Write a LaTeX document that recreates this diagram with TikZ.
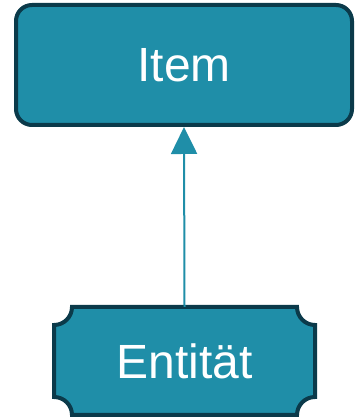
\documentclass[tikz,border=0pt]{standalone}
\usepackage{fontspec}
\setmainfont{Liberation Sans}
\usepackage{tikz}
\usetikzlibrary{arrows.meta, calc}
\definecolor{boxfill}{HTML}{1F8EA8}
\definecolor{boxline}{HTML}{0B3A4A}

\begin{document}
\begin{tikzpicture}[x=1pt, y=1pt,
    label text/.style={text=white, font=\fontsize{48}{58}\selectfont},
    item box/.style={label text, draw=boxline, fill=boxfill, line width=4pt,
      rounded corners=16pt, minimum width=336pt, minimum height=120pt},
    entity box/.style={label text, minimum width=261pt, minimum height=108pt},
    entity line/.style={draw=boxline, fill=boxfill, line width=4pt}
  ]
  \useasboundingbox (0,0) rectangle (361,419);

  % plaque with concave corners behind the entity label
  \def\cr{18}
  \path[entity line]
    (54+\cr,112) -- (315-\cr,112) arc[start angle=180, end angle=270, radius=\cr]
    -- (315,4+\cr) arc[start angle=90, end angle=180, radius=\cr]
    -- (54+\cr,4) arc[start angle=0, end angle=90, radius=\cr]
    -- (54,112-\cr) arc[start angle=270, end angle=360, radius=\cr] -- cycle;

  \node[item box] (item) at (184,354) {Item};
  \node[entity box] (entity) at (184.5,58) {Entität};

  \draw[boxfill, line width=2pt, -{Triangle[length=27pt, width=26pt]}]
    (entity.north) -- (item.south);
\end{tikzpicture}
\end{document}
